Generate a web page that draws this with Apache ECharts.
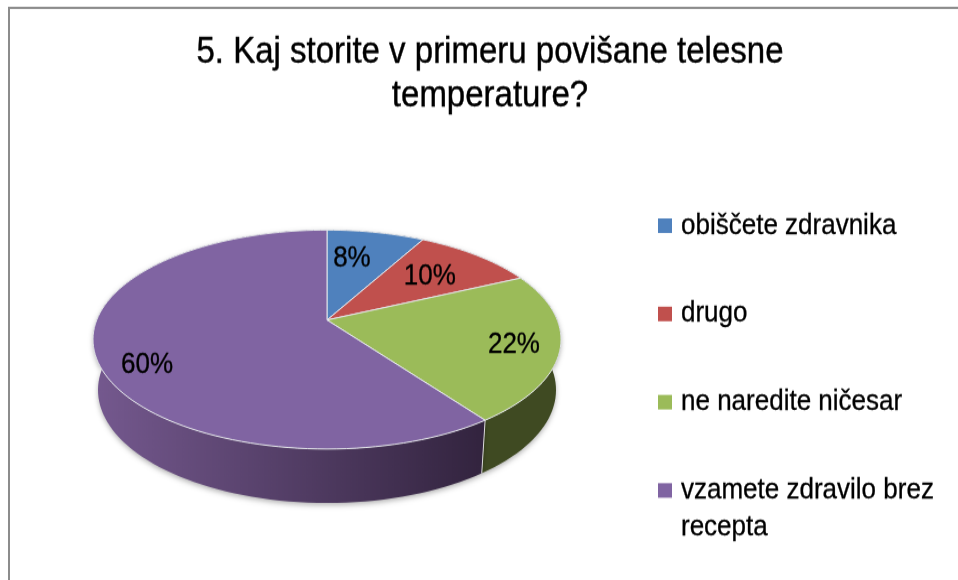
<!DOCTYPE html>
<html>
<head>
<meta charset="utf-8">
<style>
  html, body { margin: 0; background: #fff; width: 958px; height: 580px; }
  #page { width: 958px; height: 580px; overflow: hidden; }
  /* the source picture is stretched vertically, text included */
  #chart { width: 958px; height: 518px; transform: scaleY(1.12); transform-origin: 0 0; }
</style>
<script src="https://cdn.jsdelivr.net/npm/echarts@6/dist/echarts.min.js"></script>
</head>
<body>
<div id="page"><div id="chart"></div></div>
<script>
const titleLines = ['5. Kaj storite v primeru povišane telesne', 'temperature?'];
const categories = ['obiščete zdravnika', 'drugo', 'ne naredite ničesar', 'vzamete zdravilo brez\nrecepta'];
const values = [8, 10, 22, 60];

const topColors = ['#4f81bd', '#c0504d', '#9bbb59', '#8064a2'];
const wallStops = [
  ['#2f4b70', '#2f4b70'],
  ['#72302e', '#72302e'],
  ['#3f4a22', '#3f4a22'],
  ['#75598f', '#33243f'],
];
// angle shift (deg) and radius fraction of each percent label
const labelPlace = [[-3.9, 0.663], [0.9, 0.651], [1.6, 0.811], [-10.5, 0.827]];

const stretch = 1.12;
// the pie is a circle seen in perspective, so the centre sits above the middle of the ellipse
const topEllipse = { cx: 327, cy: 339.5 / stretch, rx: 234, ry: 109.5 / stretch };
const lowEllipse = { cx: 327, cy: 390 / stretch, rx: 229, ry: 113 / stretch };
const tilt = 0.178;

function project(ell, deg, r) {
  const a = deg * Math.PI / 180;
  const u = r * Math.sin(a);
  const v = -r * Math.cos(a);
  const den = 1 - tilt * v;
  return [
    ell.cx + ell.rx * u * Math.sqrt(1 - tilt * tilt) / den,
    ell.cy + ell.ry * (v - tilt) / den,
  ];
}

function arc(ell, from, to) {
  const pts = [];
  const steps = Math.max(2, Math.ceil((to - from) / 2));
  for (let i = 0; i <= steps; i++) {
    pts.push(project(ell, from + (to - from) * i / steps, 1));
  }
  return pts;
}

const total = values.reduce((a, b) => a + b, 0);

function renderSlice(idx) {
  return function (params, api) {
    const before = values.slice(0, idx).reduce((a, b) => a + b, 0);
    const from = before / total * 360;
    const to = (before + api.value(0)) / total * 360;
    const topArc = arc(topEllipse, from, to);
    const lowArc = arc(lowEllipse, from, to);
    const apex = project(topEllipse, 0, 0);
    const place = labelPlace[idx];
    const labelPos = project(topEllipse, (from + to) / 2 + place[0], place[1]);
    return {
      type: 'group',
      children: [
        {
          type: 'polygon',
          z2: 1,
          shape: { points: topArc.concat(lowArc.slice().reverse()) },
          style: {
            fill: new echarts.graphic.LinearGradient(93, 0, 480, 0, [
              { offset: 0, color: wallStops[idx][0] },
              { offset: 1, color: wallStops[idx][1] },
            ], true),
            shadowColor: 'rgba(0,0,0,0.3)',
            shadowBlur: 5,
            shadowOffsetY: 2,
          },
        },
        {
          type: 'line',
          z2: 2,
          shape: { x1: topArc[0][0], y1: topArc[0][1], x2: lowArc[0][0], y2: lowArc[0][1] },
          style: { stroke: '#d9d9d9', lineWidth: 1 },
        },
        {
          type: 'polygon',
          z2: 3,
          shape: { points: [apex].concat(topArc) },
          style: { fill: topColors[idx], stroke: '#e4e6ea', lineWidth: 1 },
        },
        {
          type: 'text',
          z2: 4,
          x: labelPos[0],
          y: labelPos[1],
          style: {
            text: api.value(0) + '%',
            fill: '#000',
            stroke: '#000',
            lineWidth: 0.3,
            font: '26px "Liberation Sans", Arial, sans-serif',
            align: 'center',
            verticalAlign: 'middle',
          },
        },
      ],
    };
  };
}

const chart = echarts.init(document.getElementById('chart'));
chart.setOption({
  backgroundColor: '#fff',
  animation: false,
  title: {
    text: titleLines.join('\n'),
    left: 485,
    top: 22,
    textAlign: 'center',
    textStyle: {
      color: '#000',
      textBorderColor: '#000',
      textBorderWidth: 0.4,
      fontFamily: '"Liberation Sans", Arial, sans-serif',
      fontWeight: 'normal',
      fontSize: 33,
      lineHeight: 39,
    },
  },
  legend: {
    orient: 'vertical',
    left: 658,
    top: 150.5,
    padding: 0,
    icon: 'rect',
    itemWidth: 14,
    itemHeight: 13,
    itemGap: -23.2,
    selectedMode: false,
    data: categories,
    formatter: name => '\n' + name + (name.includes('\n') ? '' : '\n'),
    textStyle: {
      color: '#000',
      textBorderColor: '#000',
      textBorderWidth: 0.3,
      fontFamily: '"Liberation Sans", Arial, sans-serif',
      fontSize: 26,
      lineHeight: 33,
      padding: [3, 0, 0, 4],
    },
  },
  graphic: [{
    type: 'rect',
    shape: { x: 9, y: 7.1, width: 1000, height: 600 },
    style: { fill: 'none', stroke: '#8c8c8c', lineWidth: 2 },
    silent: true,
  }],
  series: categories.map((name, idx) => ({
    type: 'custom',
    name,
    coordinateSystem: 'none',
    itemStyle: { color: topColors[idx] },
    renderItem: renderSlice(idx),
    data: [[values[idx]]],
  })),
});
</script>
</body>
</html>
